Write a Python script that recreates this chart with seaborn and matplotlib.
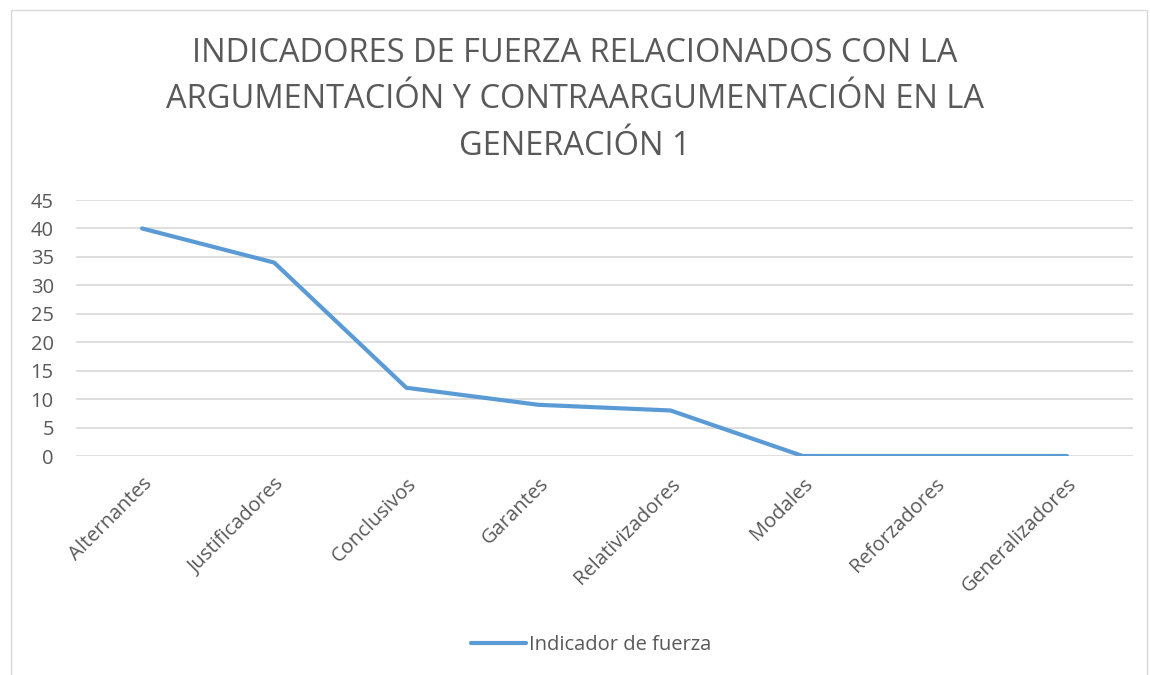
import numpy as np
import pandas as pd
import matplotlib
matplotlib.use("Agg")
import matplotlib.pyplot as plt
import matplotlib.patches as mpatches
import seaborn as sns

categories = ['Alternantes', 'Justificadores', 'Conclusivos', 'Garantes',
              'Relativizadores', 'Modales', 'Reforzadores', 'Generalizadores']
values = [40, 34, 12, 9, 8, 0, 0, 0]
series_name = 'Indicador de fuerza'
y_ticks = [0, 5, 10, 15, 20, 25, 30, 35, 40, 45]
title = ("INDICADORES DE FUERZA RELACIONADOS CON LA\n"
         "ARGUMENTACIÓN Y CONTRAARGUMENTACIÓN EN LA\n"
         "GENERACIÓN 1")

sns.set_style("white")
plt.rcParams['font.family'] = ['Open Sans', 'DejaVu Sans']

text_color = '#595959'
line_color = '#5B9BD5'

df = pd.DataFrame({'categoria': categories, 'valor': values, 'serie': series_name})
df['pos'] = np.arange(len(categories))

fig = plt.figure(figsize=(11.5, 6.75), dpi=100)
ax = fig.add_axes([76 / 1150, 1 - 456 / 675, (1133 - 76) / 1150, (456 - 200) / 675])

sns.lineplot(data=df, x='pos', y='valor', hue='serie', palette=[line_color],
             linewidth=3, ax=ax, solid_capstyle='round', legend=False)

ax.set_xlim(-0.5, len(categories) - 0.5)
ax.set_ylim(0, 45)
ax.set_yticks(y_ticks)
ax.set_yticklabels([str(v) for v in y_ticks], fontsize=14.5, color=text_color)
ax.set_xticks(df['pos'])
ax.set_xticklabels(categories, rotation=45, ha='right', rotation_mode='anchor',
                   fontsize=14.5, color=text_color)
ax.tick_params(axis='y', length=0, pad=16)
ax.tick_params(axis='x', length=0, pad=13)
ax.grid(axis='y', color='#D9D9D9', linewidth=1.2)
ax.set_axisbelow(True)
for s in ax.spines.values():
    s.set_visible(False)
ax.set_xlabel('')
ax.set_ylabel('')

fig.text(0.5, 1 - 100 / 675, title, ha='center', va='center', fontsize=23.5,
         color=text_color, linespacing=1.53)

handle = plt.Line2D([], [], color=line_color, linewidth=3, solid_capstyle='round')
fig.legend([handle], [series_name], loc='center', bbox_to_anchor=(591 / 1150, 1 - 645 / 675),
           frameon=False, fontsize=14.5, labelcolor=text_color, handlelength=2.7,
           handletextpad=0.15)

fig.patches.append(mpatches.Rectangle((11 / 1150, -0.01), (1147 - 11) / 1150, 1 - 10 / 675 + 0.01,
                                      transform=fig.transFigure, fill=False,
                                      edgecolor='#D9D9D9', linewidth=1))

fig.savefig('out.png', dpi=100)
